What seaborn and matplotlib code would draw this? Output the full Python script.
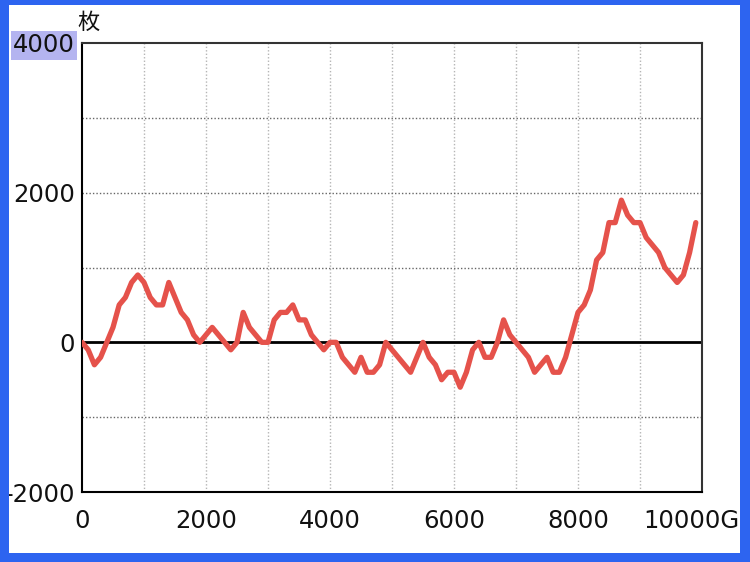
import matplotlib
matplotlib.use('Agg')

import matplotlib.pyplot as plt
import matplotlib.transforms as mtransforms
from matplotlib.patches import Rectangle
import pandas as pd
import seaborn as sns

games = [
    0, 100, 200, 300, 400, 500, 600, 700, 800, 900,
    1000, 1100, 1200, 1300, 1400, 1500, 1600, 1700, 1800, 1900,
    2000, 2100, 2200, 2300, 2400, 2500, 2600, 2700, 2800, 2900,
    3000, 3100, 3200, 3300, 3400, 3500, 3600, 3700, 3800, 3900,
    4000, 4100, 4200, 4300, 4400, 4500, 4600, 4700, 4800, 4900,
    5000, 5100, 5200, 5300, 5400, 5500, 5600, 5700, 5800, 5900,
    6000, 6100, 6200, 6300, 6400, 6500, 6600, 6700, 6800, 6900,
    7000, 7100, 7200, 7300, 7400, 7500, 7600, 7700, 7800, 7900,
    8000, 8100, 8200, 8300, 8400, 8500, 8600, 8700, 8800, 8900,
    9000, 9100, 9200, 9300, 9400, 9500, 9600, 9700, 9800, 9900,
]
coins = [
    0, -100, -300, -200, 0, 200, 500, 600, 800, 900,
    800, 600, 500, 500, 800, 600, 400, 300, 100, 0,
    100, 200, 100, 0, -100, 0, 400, 200, 100, 0,
    0, 300, 400, 400, 500, 300, 300, 100, 0, -100,
    0, 0, -200, -300, -400, -200, -400, -400, -300, 0,
    -100, -200, -300, -400, -200, 0, -200, -300, -500, -400,
    -400, -600, -400, -100, 0, -200, -200, 0, 300, 100,
    0, -100, -200, -400, -300, -200, -400, -400, -200, 100,
    400, 500, 700, 1100, 1200, 1600, 1600, 1900, 1700, 1600,
    1600, 1400, 1300, 1200, 1000, 900, 800, 900, 1200, 1600,
]
x_ticks = [0, 2000, 4000, 6000, 8000, 10000]
x_labels = ["0", "2000", "4000", "6000", "8000", "10000G"]
y_ticks = [4000, 2000, 0, -2000]
y_labels = ["4000", "2000", "0", "-2000"]

df = pd.DataFrame({"game": games, "coins": coins})

sns.set_style("white")
plt.rcParams['font.family'] = ['DejaVu Sans', 'Noto Sans CJK JP']

fig = plt.figure(figsize=(7.5, 5.62), dpi=100)
fig.patch.set_facecolor("white")

ax = fig.add_axes([82 / 750, 1 - 492 / 562, 620 / 750, 449 / 562])
ax.set_zorder(1)
ax.set_facecolor("white")

# grid
for gx in range(1000, 10000, 1000):
    ax.axvline(gx, color="#b5b5b5", lw=1, ls=(0, (1, 1.5)), zorder=1)
for gy in [-1000, 1000, 2000, 3000]:
    ax.axhline(gy, color="#666666", lw=1, ls=(0, (1, 1.5)), zorder=1)
ax.axhline(0, color="black", lw=2, zorder=2)

sns.lineplot(data=df, x="game", y="coins", ax=ax, color="#e5524b",
             linewidth=3.8, zorder=3)

ax.set_xlim(0, 10000)
ax.set_ylim(-2000, 4000)
ax.set_xlabel("")
ax.set_ylabel("")

ax.set_xticks(x_ticks)
ax.set_xticklabels(x_labels, fontsize=17.5, color="#111111")
ax.set_yticks(y_ticks)
ax.set_yticklabels(y_labels, fontsize=17.5, color="#111111")
ax.tick_params(axis="x", length=0, pad=12)
ax.tick_params(axis="y", length=0, pad=5)

# shift the "10000G" label a bit left like the original
last = ax.get_xticklabels()[-1]
last.set_transform(last.get_transform() +
                   mtransforms.ScaledTranslation(-11 / 100, 0, fig.dpi_scale_trans))

# highlighted top label
ax.get_yticklabels()[0].set_bbox(dict(facecolor="#b4b4f0", edgecolor="none", pad=1.5))

for side in ["left", "bottom"]:
    ax.spines[side].set_color("black")
    ax.spines[side].set_linewidth(1.5)
for side in ["top", "right"]:
    ax.spines[side].set_color("#333333")
    ax.spines[side].set_linewidth(1.5)

fig.text(89 / 750, 1 - 22 / 562, "枚", fontsize=16, ha="center", va="center",
         color="#111111", family=["Noto Sans CJK JP", "DejaVu Sans"])

# blue frame on top of everything
blue = "#2d64f0"
for x0, y0, w, h in [(0, 0, 9, 562), (740, 0, 10, 562),
                     (0, 0, 750, 9), (0, 557, 750, 5)]:
    fig.patches.append(Rectangle((x0 / 750, y0 / 562), w / 750, h / 562,
                                 transform=fig.transFigure, facecolor=blue,
                                 edgecolor="none", zorder=10))

fig.savefig("out.png", dpi=100)
